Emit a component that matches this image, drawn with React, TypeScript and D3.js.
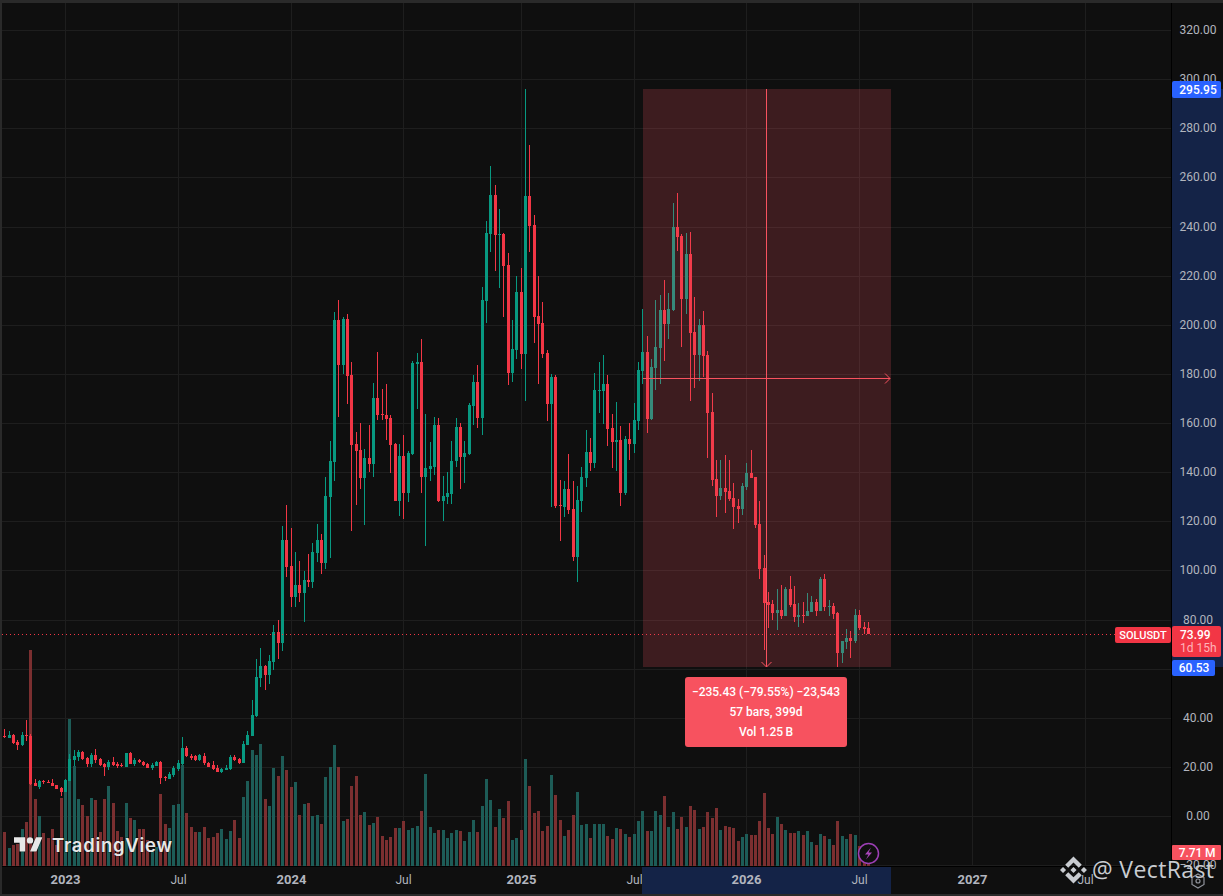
import React from 'react';
import * as d3 from 'd3';

// weekly SOLUSDT candles
const opens = [
  32.6, 31.9, 33.0, 30.0, 28.8, 33.0, 32.6, 13.5, 11.8, 14.3, 14.0, 13.5, 12.5, 11.4, 9.8, 14.4, 22.7, 23.9, 26.1, 23.6,
  21.2, 24.9, 23.2, 21.2, 20.0, 21.9, 21.2, 20.8, 20.0, 25.7, 21.2, 22.8, 21.9, 21.2, 19.6, 20.4, 22.0, 16.0, 15.1, 16.7,
  19.1, 21.2, 27.7, 24.4, 24.4, 22.7, 24.4, 21.7, 20.8, 19.6, 18.1, 18.9, 19.1, 24.0, 23.2, 21.7, 28.9, 32.6, 40.6, 56.2,
  61.1, 57.4, 62.7, 74.9, 70.5, 112.4, 101.8, 89.2, 94.1, 90.8, 96.1, 95.3, 107.1, 112.4, 103.0, 129.9, 144.1, 202.0, 183.6, 202.4,
  179.6, 151.5, 149.0, 137.6, 145.8, 143.3, 170.2, 163.7, 163.3, 162.1, 151.5, 128.3, 146.6, 131.5, 147.4, 184.0, 184.9, 138.0, 141.3, 142.1,
  159.2, 128.3, 129.9, 131.1, 144.6, 158.4, 146.2, 147.4, 167.0, 176.7, 162.1, 209.7, 237.0, 252.9, 236.6, 237.0, 224.4, 180.4, 189.8, 213.4,
  188.1, 252.4, 240.6, 203.6, 200.7, 188.5, 167.8, 178.8, 126.6, 125.8, 133.2, 125.0, 105.5, 128.3, 137.6, 148.2, 143.7, 173.1, 173.1, 175.9,
  158.0, 152.3, 153.1, 131.5, 153.5, 151.5, 160.9, 181.2, 188.9, 161.7, 182.4, 190.6, 206.0, 200.3, 206.0, 239.8, 236.2, 210.5, 228.8, 197.1,
  187.7, 199.9, 187.7, 164.5, 137.2, 130.3, 133.6, 132.4, 129.5, 126.2, 125.0, 134.0, 139.7, 138.0, 118.9, 101.0, 87.1, 86.3, 82.7, 83.9,
  81.4, 92.4, 86.3, 81.0, 81.9, 81.4, 83.1, 87.1, 83.5, 96.5, 85.1, 85.5, 82.7, 66.4, 70.9, 72.5, 71.3, 81.9, 77.0, 76.6,
];
const highs = [
  35.3, 34.6, 33.4, 30.9, 34.0, 39.1, 33.4, 14.9, 14.7, 14.7, 14.7, 14.9, 12.5, 12.0, 15.1, 25.3, 26.9, 26.9, 26.6, 24.0,
  25.5, 27.2, 23.6, 21.5, 22.9, 23.9, 22.0, 21.5, 25.7, 26.1, 23.6, 23.2, 22.5, 21.6, 21.5, 22.5, 22.4, 16.4, 17.8, 20.4,
  22.8, 32.2, 28.5, 25.3, 24.9, 25.3, 25.5, 22.0, 22.4, 20.8, 19.4, 20.8, 24.9, 24.9, 23.6, 30.4, 34.6, 47.2, 63.8, 68.4,
  61.5, 65.6, 77.8, 79.8, 118.0, 126.6, 117.3, 107.5, 103.8, 99.8, 106.7, 111.2, 118.9, 114.8, 138.0, 152.7, 205.2, 210.1, 203.2, 204.4,
  184.9, 156.4, 160.0, 149.4, 159.2, 176.3, 188.9, 173.9, 175.9, 163.3, 151.9, 151.5, 155.1, 148.6, 185.3, 188.5, 194.2, 163.7, 152.3, 162.5,
  162.1, 138.4, 140.1, 152.7, 162.1, 160.0, 152.7, 168.2, 179.6, 183.6, 215.4, 242.3, 264.7, 256.9, 247.2, 237.4, 229.2, 201.9, 219.9, 223.1,
  295.95, 273.2, 244.7, 219.9, 209.3, 189.8, 180.0, 179.6, 136.8, 136.4, 147.4, 136.4, 134.4, 142.1, 157.2, 153.9, 180.4, 184.9, 187.7, 179.6,
  163.7, 168.6, 158.8, 154.7, 160.0, 168.2, 184.9, 206.4, 195.4, 186.1, 210.1, 212.1, 218.3, 213.0, 249.6, 253.7, 237.0, 237.4, 237.8, 211.3,
  202.4, 205.6, 189.3, 172.2, 145.0, 145.0, 147.0, 145.0, 135.6, 129.1, 135.6, 143.7, 149.0, 138.0, 128.3, 106.3, 91.2, 88.0, 92.4, 94.1,
  93.3, 97.7, 93.7, 86.7, 87.1, 90.8, 89.6, 88.4, 97.3, 98.5, 88.0, 86.7, 83.1, 71.3, 76.2, 75.4, 84.3, 83.9, 79.0, 79.0,
];
const lows = [
  31.9, 31.6, 29.3, 26.9, 28.6, 30.7, 12.6, 12.2, 11.1, 13.0, 13.3, 12.2, 10.9, 8.3, 9.6, 14.1, 20.4, 22.4, 23.0, 20.0,
  20.1, 21.5, 20.2, 16.3, 18.7, 20.5, 19.7, 20.0, 20.0, 21.1, 20.4, 21.5, 20.4, 19.6, 18.7, 20.4, 13.0, 14.3, 14.9, 15.9,
  18.5, 20.8, 24.0, 22.8, 22.4, 22.4, 20.6, 19.8, 18.7, 17.8, 17.7, 18.6, 18.7, 22.5, 21.2, 21.6, 28.9, 32.6, 40.2, 52.4,
  51.3, 53.8, 59.5, 63.9, 67.2, 97.3, 85.1, 85.1, 87.2, 79.0, 93.3, 92.9, 103.4, 98.6, 100.6, 105.1, 136.4, 162.5, 180.0, 167.8,
  116.1, 126.6, 133.2, 118.5, 140.1, 138.0, 161.2, 161.2, 153.1, 139.7, 128.3, 122.2, 121.0, 127.9, 147.0, 165.7, 131.5, 110.0, 136.4, 138.9,
  127.9, 120.1, 127.1, 127.1, 142.1, 133.2, 135.6, 147.0, 159.2, 158.0, 155.2, 200.7, 229.6, 221.9, 215.0, 203.2, 175.5, 176.7, 186.1, 182.0,
  169.0, 229.6, 192.6, 175.9, 186.5, 160.8, 125.8, 125.4, 112.0, 121.8, 123.0, 103.9, 95.3, 123.8, 134.0, 140.5, 141.7, 164.1, 159.6, 150.7,
  141.7, 140.5, 126.2, 130.7, 145.0, 147.8, 157.2, 175.9, 156.0, 161.3, 173.5, 175.9, 185.3, 194.2, 205.6, 230.1, 191.0, 204.4, 169.0, 174.3,
  177.1, 178.8, 145.8, 134.4, 121.8, 128.7, 123.4, 128.3, 116.9, 119.3, 122.6, 132.7, 137.7, 117.3, 96.5, 67.6, 76.6, 79.8, 75.8, 80.2,
  81.4, 85.1, 79.0, 77.0, 78.6, 81.4, 83.1, 81.4, 83.5, 83.5, 81.4, 80.2, 60.53, 62.3, 68.0, 64.4, 70.5, 75.8, 74.1, 73.9,
];
const closes = [
  32.2, 33.0, 29.6, 28.8, 33.1, 32.7, 12.9, 12.4, 14.3, 13.9, 13.7, 12.4, 11.0, 9.9, 14.7, 23.2, 24.5, 26.1, 23.2, 21.1,
  24.9, 22.7, 20.8, 20.0, 22.0, 20.8, 20.4, 20.4, 25.5, 21.2, 22.8, 21.9, 20.8, 19.7, 20.8, 22.0, 15.6, 15.6, 17.1, 19.6,
  21.6, 27.7, 24.4, 23.6, 22.8, 24.9, 21.6, 20.1, 19.1, 18.1, 19.1, 19.6, 24.0, 22.8, 21.6, 29.3, 33.0, 41.1, 56.6, 61.1,
  57.4, 63.1, 74.9, 70.4, 112.4, 101.4, 89.2, 94.1, 90.8, 96.1, 95.3, 107.5, 112.4, 103.0, 130.3, 144.5, 202.0, 183.6, 202.4, 179.2,
  151.1, 148.6, 137.6, 145.8, 143.3, 170.2, 163.3, 163.3, 161.7, 151.1, 128.3, 146.6, 131.5, 147.8, 184.5, 184.9, 138.0, 141.7, 142.5, 159.2,
  128.3, 130.3, 131.5, 144.6, 158.4, 146.2, 147.8, 167.4, 176.7, 162.1, 210.1, 237.4, 252.9, 236.6, 237.0, 223.9, 180.4, 190.2, 213.4, 188.1,
  252.4, 240.2, 203.2, 200.3, 188.1, 167.8, 178.8, 126.2, 126.2, 133.2, 124.6, 105.5, 128.7, 138.0, 148.2, 143.7, 173.5, 173.5, 175.9, 157.6,
  152.3, 153.1, 131.5, 153.5, 151.5, 161.3, 181.6, 188.9, 161.7, 182.8, 191.0, 206.0, 200.3, 206.4, 239.8, 235.8, 210.5, 228.8, 196.7, 187.7,
  199.9, 187.3, 164.1, 136.8, 130.3, 133.6, 132.0, 129.1, 125.8, 125.0, 134.4, 139.7, 137.7, 118.5, 100.6, 86.7, 85.9, 82.7, 83.9, 81.4,
  92.4, 85.9, 81.0, 81.9, 81.4, 83.5, 87.1, 83.5, 96.5, 85.1, 85.5, 82.3, 66.4, 71.3, 72.5, 71.3, 81.9, 76.6, 76.2, 73.99,
];
// volume in millions
const volumes = [
  19.4, 10.3, 12.0, 12.5, 21.1, 25.1, 123.3, 38.2, 28.5, 18.8, 16.0, 21.1, 12.0, 38.8, 47.9, 83.9, 57.0, 38.2, 34.8, 28.5,
  38.8, 37.6, 19.6, 38.2, 45.6, 35.9, 20.0, 16.7, 35.9, 27.2, 26.2, 21.1, 21.1, 14.8, 9.1, 11.0, 41.0, 23.9, 21.7, 34.8,
  35.3, 57.6, 30.2, 22.2, 19.4, 19.4, 22.2, 16.0, 16.5, 18.8, 21.1, 15.4, 20.0, 26.2, 16.0, 39.3, 48.5, 66.1, 63.3, 69.5,
  38.2, 34.2, 55.9, 51.3, 62.7, 54.7, 45.0, 47.9, 29.1, 35.3, 35.9, 28.5, 29.1, 23.9, 50.7, 56.4, 69.0, 56.4, 25.7, 26.8,
  45.6, 51.3, 29.1, 30.8, 23.4, 24.5, 27.9, 17.1, 14.8, 16.5, 21.7, 21.7, 25.7, 20.5, 21.7, 22.8, 31.4, 52.4, 22.2, 18.8,
  20.5, 20.5, 16.0, 18.8, 20.5, 20.0, 14.3, 19.4, 26.2, 19.4, 34.2, 49.6, 37.6, 22.2, 32.5, 27.4, 37.1, 14.8, 16.0, 20.5,
  61.0, 45.6, 30.2, 31.4, 20.0, 22.8, 51.9, 40.5, 26.2, 17.1, 20.5, 29.1, 42.2, 23.4, 23.9, 16.0, 23.9, 23.9, 23.9, 17.1,
  15.4, 21.7, 21.1, 18.2, 16.5, 18.2, 25.7, 31.4, 20.0, 20.0, 31.4, 29.1, 39.9, 22.2, 30.8, 21.1, 27.9, 22.2, 34.2, 31.9,
  21.1, 22.2, 30.8, 27.4, 33.1, 20.5, 22.8, 22.2, 21.7, 14.3, 16.5, 18.2, 17.7, 17.7, 25.7, 41.6, 21.7, 18.2, 27.9, 23.9,
  20.5, 18.8, 18.8, 20.0, 17.7, 20.0, 13.7, 12.0, 18.2, 17.1, 15.4, 12.0, 25.7, 17.1, 15.4, 18.2, 17.7, 11.4, 8.2, 7.71,
];

const priceTicks = [320, 300, 280, 260, 240, 220, 200, 180, 160, 140, 120, 100, 80, 60, 40, 20, 0, -20];
const timeTickBars = [14, 40, 66, 92, 119, 145, 171, 197, 223, 249];
const timeTickLabels = ['2023', 'Jul', '2024', 'Jul', '2025', 'Jul', '2026', 'Jul', '2027', 'Jul'];

const lastPrice = 73.99;
const measureTop = 295.95;
const measureBottom = 60.53;
const measureMid = 178.24;
const measureStartBar = 147;
const measureEndBar = 204.2;
const measureLines = ['\u2212235.43 (\u221279.55%) \u221223,543', '57 bars, 399d', 'Vol 1.25\u2009B'];

const UP = '#089981';
const DOWN = '#f23645';
const UP_VOL = '#1d5c57';
const DOWN_VOL = '#7b2f30';
const BG = '#0f0f0f';
const GRID = '#1e1e1e';
const TOOL = '#f7525f';
const RANGE = '#142347';
const AXIS_TEXT = '#b2b5be';
const FRAME = '#2a2a2a';
const FONT = 'Roboto, "Liberation Sans", sans-serif';

const x = d3.scaleLinear().domain([0, 249]).range([4.7, 1085.36]);
const y = d3.scaleLinear().domain([0, 320]).range([816, 30]);
const yVol = d3.scaleLinear().domain([0, 123.3]).range([866, 650]);

const px = (i: number) => Math.floor(x(i));
const fmt = d3.format('.2f');
const priceLabel = (v: number) => (v < 0 ? '\u2212' + fmt(-v) : fmt(v));

const TimeLabel: React.FC<{ bar: number; label: string }> = ({ bar, label }) => {
  const isYear = label !== 'Jul';
  return (
    <text
      x={px(bar) + 0.5}
      y={884}
      textAnchor="middle"
      fill={AXIS_TEXT}
      fontSize={isYear ? 13 : 12}
      fontWeight={isYear ? 700 : 400}
    >
      {label}
    </text>
  );
};

const App: React.FC = () => {
  const bars = d3.range(closes.length);
  const boxX0 = Math.round(x(measureStartBar));
  const boxX1 = Math.round(x(measureEndBar));
  const boxY0 = Math.round(y(measureTop));
  const boxY1 = Math.round(y(measureBottom));
  const midX = Math.floor((boxX0 + boxX1) / 2) - 0.5;
  const midY = Math.round(y(measureMid)) + 0.5;
  const lastY = Math.round(y(lastPrice));

  return (
    <svg
      width={1223}
      height={896}
      viewBox="0 0 1223 896"
      style={{ position: 'fixed', left: 0, top: 0, display: 'block' }}
      fontFamily={FONT}
    >
      <rect width={1223} height={896} fill={BG} />

      {/* grid */}
      <g shapeRendering="crispEdges" stroke={GRID}>
        {priceTicks.map(t => (
          <line key={t} x1={2} x2={1171} y1={Math.round(y(t)) + 0.5} y2={Math.round(y(t)) + 0.5} />
        ))}
        {timeTickBars.map(b => (
          <line key={b} y1={3} y2={866} x1={px(b) + 0.5} x2={px(b) + 0.5} />
        ))}
      </g>

      {/* volume */}
      <g shapeRendering="crispEdges">
        {bars.map(i => (
          <rect
            key={i}
            x={px(i) - 1}
            width={3}
            y={Math.round(yVol(volumes[i]))}
            height={866 - Math.round(yVol(volumes[i]))}
            fill={closes[i] >= opens[i] ? UP_VOL : DOWN_VOL}
          />
        ))}
      </g>

      {/* candles */}
      <g shapeRendering="crispEdges">
        {bars.map(i => {
          const color = closes[i] >= opens[i] ? UP : DOWN;
          const top = Math.round(y(Math.max(opens[i], closes[i])));
          const bottom = Math.round(y(Math.min(opens[i], closes[i])));
          const hi = Math.round(y(highs[i]));
          const lo = Math.round(y(lows[i]));
          return (
            <g key={i} fill={color}>
              <rect x={px(i)} width={1} y={hi} height={Math.max(lo - hi, 1)} />
              <rect x={px(i) - 1} width={3} y={top} height={Math.max(bottom - top, 1)} />
            </g>
          );
        })}
      </g>

      {/* last price line */}
      <line
        x1={2}
        x2={1115}
        y1={lastY + 0.5}
        y2={lastY + 0.5}
        stroke={DOWN}
        strokeDasharray="1 3"
        shapeRendering="crispEdges"
      />

      {/* date and price range tool */}
      <rect x={boxX0} y={boxY0} width={boxX1 - boxX0} height={boxY1 - boxY0} fill={TOOL} fillOpacity={0.2} />
      <g stroke={TOOL} fill="none">
        <line x1={midX} x2={midX} y1={boxY0} y2={boxY1} shapeRendering="crispEdges" />
        <line x1={boxX0} x2={boxX1 - 1} y1={midY} y2={midY} shapeRendering="crispEdges" />
        <path d={`M${midX - 5},${boxY1 - 5}L${midX},${boxY1}L${midX + 5},${boxY1 - 5}`} />
        <path d={`M${boxX1 - 6},${midY - 5}L${boxX1 - 1},${midY}L${boxX1 - 6},${midY + 5}`} />
      </g>
      <rect x={685} y={677} width={162} height={70} rx={3} fill={TOOL} />
      {measureLines.map((t, k) => (
        <text
          key={k}
          x={766}
          y={696 + k * 20}
          textAnchor="middle"
          fill="#fff"
          fontSize={12}
          fontWeight={500}
        >
          {t}
        </text>
      ))}

      {/* price axis */}
      <rect x={1172} y={3} width={51} height={891} fill={BG} />
      <rect x={1172} y={boxY0} width={51} height={boxY1 - boxY0} fill={RANGE} />
      <rect x={1171} y={3} width={1} height={891} fill="#000" shapeRendering="crispEdges" />
      {priceTicks
        .filter(t => t !== 60)
        .map(t => (
          <text key={t} x={1198} y={y(t) + 4} textAnchor="middle" fill={AXIS_TEXT} fontSize={12}>
            {priceLabel(t)}
          </text>
        ))}

      {/* time axis */}
      <rect x={0} y={866} width={1172} height={28} fill={BG} />
      <rect x={0} y={866} width={1172} height={1} fill="#000" shapeRendering="crispEdges" />
      {timeTickBars.map((b, k) => (b <= 145 ? <TimeLabel key={b} bar={b} label={timeTickLabels[k]} /> : null))}
      <rect x={boxX0 - 1} y={867} width={boxX1 - boxX0 + 1} height={27} fill={RANGE} />
      {timeTickBars.map((b, k) => (b > 145 ? <TimeLabel key={b} bar={b} label={timeTickLabels[k]} /> : null))}

      {/* axis flags */}
      <rect x={1172} y={81} width={49} height={17} rx={2} fill="#2962ff" />
      <text x={1198} y={93.5} textAnchor="middle" fill="#fff" fontSize={12} fontWeight={500}>
        {fmt(measureTop)}
      </text>
      <rect x={1172} y={660} width={43} height={16} rx={2} fill="#2962ff" />
      <text x={1194} y={672} textAnchor="middle" fill="#fff" fontSize={12} fontWeight={500}>
        {fmt(measureBottom)}
      </text>
      <rect x={1115} y={627} width={56} height={16} rx={2} fill={DOWN} />
      <text x={1143} y={639} textAnchor="middle" fill="#fff" fontSize={11} fontWeight={500}>
        SOLUSDT
      </text>
      <rect x={1172} y={626} width={49} height={31} rx={2} fill={DOWN} />
      <text x={1180} y={639} fill="#fff" fontSize={12} fontWeight={500}>
        {fmt(lastPrice)}
      </text>
      <text x={1180} y={652} fill="#ffb3ba" fontSize={12}>
        1d 15h
      </text>
      <rect x={1172} y={845} width={49} height={15} rx={1} fill={TOOL} />
      <text x={1197} y={857} textAnchor="middle" fill="#fff" fontSize={12} fontWeight={500}>
        7.71{'\u2009'}M
      </text>

      {/* TradingView watermark */}
      <g fill="#e8e8e8" stroke="#000" strokeOpacity={0.45} strokeWidth={1} paintOrder="stroke">
        <g transform="translate(14,834) scale(0.8)">
          <path d="M14 22H7V11H0V4h14v18zM28 22h-8l7.5-18h8L28 22z" />
          <circle cx={20} cy={8} r={4} />
        </g>
        <text x={52} y={852} fontFamily="Inter, sans-serif" fontSize={18.5} fontWeight={600} textLength={120}>
          TradingView
        </text>
      </g>

      {/* replay icon */}
      <circle cx={868.5} cy={853.5} r={10} fill={BG} stroke="#9c3fb5" strokeWidth={1.5} />
      <path d="M871,847.5L865,854.5H868.5L866,859.5L872,852.5H868.5Z" fill="#ab47bc" />

      {/* settings icon */}
      <g fill="none" stroke="#8f929a" strokeWidth={1.2}>
        <path d="M1192,877.5L1198,874L1204,877.5V884.5L1198,888L1192,884.5Z" />
        <circle cx={1198} cy={881} r={2} />
      </g>

      {/* author stamp */}
      <g fill="#c9ccd1">
        <g transform="translate(1060,856.5) scale(0.213)">
          <path d="M38.73 53.2l24.59-24.58 24.6 24.6 14.3-14.31L63.32 0 24.42 38.9z" />
          <path d="M0 63.31l14.3-14.31 14.31 14.31-14.31 14.3z" />
          <path d="M38.73 73.41l24.59 24.59 24.6-24.6 14.31 14.29-38.9 38.91-38.91-38.88-.02-.02z" />
          <path d="M98 63.31l14.3-14.31 14.31 14.31-14.31 14.3z" />
          <path d="M77.83 63.3L63.32 48.78 52.59 59.51l-1.24 1.23-2.54 2.54 14.51 14.5 14.51-14.47z" />
        </g>
        <text x={1092} y={878} fontFamily='"Open Sans", sans-serif' fontSize={23} textLength={122}>
          @ VectRast
        </text>
      </g>

      {/* window frame */}
      <rect x={0} y={0} width={2} height={896} fill={FRAME} />
      <rect x={0} y={0} width={1223} height={3} fill={FRAME} />
      <rect x={0} y={894} width={1223} height={2} fill={FRAME} />
    </svg>
  );
};

export default App;
